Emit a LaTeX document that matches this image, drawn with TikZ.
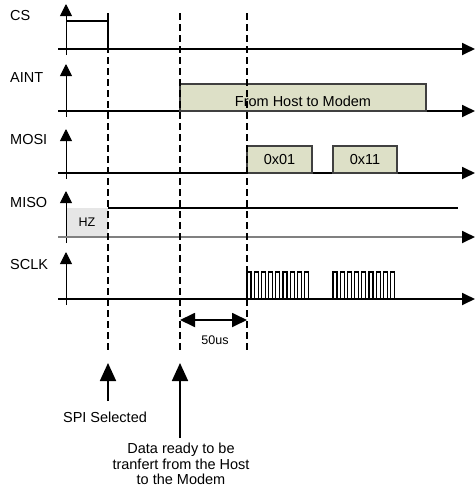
\documentclass[tikz,border=0pt]{standalone}
\usepackage{fontspec}
\setmainfont{Liberation Sans}
\usepackage{xcolor}
\usetikzlibrary{arrows.meta}
\definecolor{boxfill}{RGB}{221,224,199}
\definecolor{hzfill}{RGB}{230,230,230}

\begin{document}
\begin{tikzpicture}[x=1pt,y=-1pt,
  font=\fontsize{14.5}{15.5}\selectfont,
  axis/.style={-{Triangle[length=12pt,width=12pt]},line width=1pt},
  timeline/.style={-{Triangle[length=13pt,width=12pt]},line width=1.8pt},
  level/.style={line width=1.2pt},
  guide/.style={line width=1.3pt,dash pattern=on 7pt off 4pt},
  databox/.style={draw=black!75,fill=boxfill,line width=1.1pt,inner sep=0pt},
  sig/.style={anchor=west,inner sep=0pt},
  span/.style={{Triangle[length=15pt,width=14pt]}-{Triangle[length=15pt,width=14pt]},line width=1.8pt},
  pointer/.style={-{Triangle[length=18pt,width=16pt]},line width=1.8pt}]
\useasboundingbox (0,0) rectangle (475,491);

\node[sig] (cs) at (10,16) {CS};
\coordinate (cs0) at (66,55);
\coordinate (cs1) at (66,4);
\draw[axis] (cs0) -- (cs1);
\draw[timeline] (58,49) -- (475,49);
\draw[level] (66,21) -- (108,21) -- (108,49);

\node[sig] (aint) at (10,78) {AINT};
\coordinate (aint0) at (66,117);
\coordinate (aint1) at (66,64);
\draw[axis] (aint0) -- (aint1);
\draw[timeline] (58,111) -- (475,111);
\node[databox,minimum width=246pt,minimum height=27pt] (host) at (303,97.5) {};
\node (hosttxt) at (303,101.5) {From Host to Modem};

\node[sig] (mosi) at (10,140) {MOSI};
\coordinate (mosi0) at (66,179);
\coordinate (mosi1) at (66,129);
\draw[axis] (mosi0) -- (mosi1);
\draw[timeline] (58,173) -- (475,173);
\node[databox,minimum width=65pt,minimum height=27pt] (b01) at (279.5,159.5) {0x01};
\node[databox,minimum width=64pt,minimum height=27pt] (b11) at (365,159.5) {0x11};

\node[sig] (miso) at (10,203) {MISO};
\coordinate (miso0) at (66,243);
\coordinate (miso1) at (66,191);
\fill[hzfill] (66,208) rectangle (108,237);
\node[font=\fontsize{12.5}{14}\selectfont] (hz) at (87,222) {HZ};
\draw[axis] (miso0) -- (miso1);
\draw[-{Triangle[length=13pt,width=12pt,color=black]},line width=1.8pt,draw=black!50] (58,237) -- (475,237);
\draw[level] (108,208) -- (458,208);

\node[sig] (sclk) at (10,265) {SCLK};
\coordinate (sclk0) at (66,305);
\coordinate (sclk1) at (66,252);
\draw[axis] (sclk0) -- (sclk1);
\draw[timeline] (58,299) -- (475,299);
\foreach \s in {247,333} {
  \foreach \i in {0,...,8} {
    \draw[level] (\s+\i*7.2,299) -- ++(0,-27) -- ++(4,0) -- ++(0,27);
  }
}

\coordinate (g1a) at (108,13);
\coordinate (g1b) at (108,350);
\coordinate (g2a) at (180,13);
\coordinate (g2b) at (180,350);
\coordinate (g3a) at (247,13);
\coordinate (g3b) at (247,350);
\draw[guide] (g1a) -- (g1b);
\draw[guide] (g2a) -- (g2b);
\draw[guide] (g3a) -- (g3b);

\coordinate (t0) at (180,320);
\coordinate (t1) at (247,320);
\draw[span] (t0) -- (t1);
\node[font=\fontsize{12.5}{14}\selectfont] (delay) at (215,340) {50us};

\node (spi) at (105,417) {SPI Selected};
\coordinate (spi0) at (108,401);
\coordinate (spi1) at (108,363);
\draw[pointer] (spi0) -- (spi1);

\node[align=center] (data) at (181,464) {Data ready to be\\tranfert from the Host\\to the Modem};
\coordinate (data0) at (180,438);
\coordinate (data1) at (180,363);
\draw[pointer] (data0) -- (data1);
\end{tikzpicture}
\end{document}
